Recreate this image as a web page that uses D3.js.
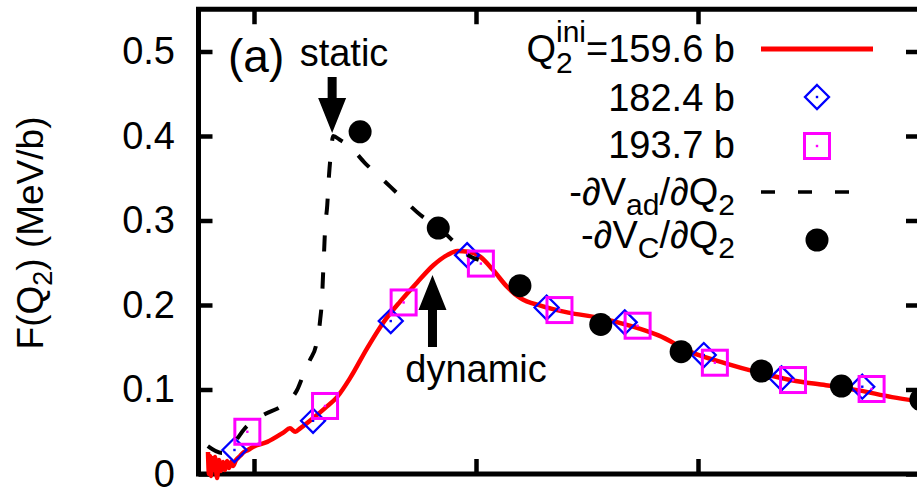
<!DOCTYPE html>
<html><head><meta charset="utf-8">
<script src="https://cdn.jsdelivr.net/npm/d3@7"></script>
<style>
body{margin:0;background:#fff}
svg{display:block}
text{font-family:"Liberation Sans",Arial,Helvetica,sans-serif;fill:#000}
</style>
</head><body>
<svg id="c" width="917" height="489"></svg>
<script>
// ---------- data ----------
const xTicks = [50, 100, 150, 200];
const yTicks = [0, 0.1, 0.2, 0.3, 0.4, 0.5];
const yTickLabels = ["0", "0.1", "0.2", "0.3", "0.4", "0.5"];

// Q2ini = 159.6 b (red line)
const redX = [39.64,39.86,40.09,40.32,40.54,40.99,41.22,41.67,42.12,42.57,43.02,43.47,43.92,44.37,44.82,45.27,45.95,46.85,47.75,48.65,49.77,
  53.0,56.6,58.1,59.3,60.4,63.3,66.0,68.7,71.7,75.5,79.1,82.9,86.8,90.4,93.5,95.8,98.3,101.0,103.9,107.1,110.0,114.7,120.8,127.6,135.0,141.1,148.6,156.2,163.7,171.1,178.8,186.2,193.7,200.1];
const redY = [0.026,0.000,0.0213,-0.0024,0.0189,0.0047,0.0201,-0.0047,0.0166,0.0036,0.0142,0.0047,0.0154,0.0071,0.0142,0.0095,0.0166,0.0213,0.0260,0.0284,0.0320,
  0.038,0.049,0.054,0.050,0.054,0.066,0.078,0.091,0.114,0.149,0.179,0.204,0.227,0.247,0.259,0.264,0.263,0.257,0.241,0.221,0.208,0.199,0.191,0.185,0.175,0.164,0.144,0.131,0.120,0.111,0.105,0.099,0.091,0.086];

// 182.4 b (blue diamonds)
const diamondX = [45.6, 63.3, 80.8, 98.0, 115.9, 133.5, 151.3, 168.8, 187.0];
const diamondY = [0.0284, 0.063, 0.181, 0.259, 0.197, 0.1795, 0.1408, 0.1132, 0.1033];

// 193.7 b (magenta squares)
const squareX = [48.5, 66.0, 83.7, 101.1, 118.8, 136.4, 153.8, 171.4, 189.1];
const squareY = [0.050, 0.0805, 0.203, 0.249, 0.194, 0.1755, 0.1317, 0.1112, 0.1006];

// -dVad/dQ2 (black dashed)
const adX = [39.6,42.8,45.1,48.0,52.5,55.9,58.1,59.7,61.1,62.6,64.0,64.9,65.3,65.6,65.8,66.0,66.5,66.9,67.4,67.8,69.4,71.7,75.0,78.4,82.9,87.5,92.0,95.3,98.1,100.6];
const adY = [0.0331,0.0249,0.0343,0.0544,0.0710,0.0793,0.0876,0.0994,0.1172,0.1349,0.1527,0.1822,0.2059,0.2414,0.2651,0.2888,0.3183,0.3538,0.3834,0.4000,0.3953,0.3870,0.3680,0.3515,0.3290,0.3065,0.2899,0.2734,0.2592,0.2533];

// -dVC/dQ2 (black circles)
const cX = [73.9, 91.5, 109.9, 128.1, 146.2, 164.3, 182.3, 200.2];
const cY = [0.405, 0.291, 0.2228, 0.177, 0.1447, 0.1219, 0.1041, 0.088];

// arrows (static / dynamic)
const arrowLabels = ["static", "dynamic"];
const arrowTipX = [67.6, 90.2];
const arrowTipY = [0.4036, 0.2355];
const arrowTailY = [0.4698, 0.1503];

// ---------- layout ----------
const svg = d3.select("#c");
const x = d3.scaleLinear().domain([37.5, 200]).range([198.5, 920]);
const y = d3.scaleLinear().domain([0, 0.55]).range([474, 9.25]);
const FS = 38, SFS = 30;

// frame
svg.append("rect").attr("x", x.range()[0]).attr("y", y.range()[1])
  .attr("width", x.range()[1] - x.range()[0]).attr("height", y.range()[0] - y.range()[1])
  .attr("fill", "none").attr("stroke", "#000").attr("stroke-width", 5);

function styleAxis(g) {
  g.select(".domain").remove();
  g.selectAll(".tick line").attr("stroke", "#000").attr("stroke-width", 4.5);
}
svg.append("g").attr("transform", `translate(${x.range()[0]},0)`)
  .call(d3.axisLeft(y).tickValues(yTicks).tickSize(-14).tickPadding(23.5).tickFormat((d, i) => yTickLabels[i]))
  .call(styleAxis)
  .call(g => g.selectAll(".tick text").attr("font-size", FS).attr("fill", "#000")
     .attr("font-family", '"Liberation Sans",Arial,sans-serif'));
svg.append("g").attr("transform", `translate(${x.range()[1]},0)`)
  .call(d3.axisRight(y).tickValues(yTicks).tickSize(-14).tickFormat(""))
  .call(styleAxis);
svg.append("g").attr("transform", `translate(0,${y.range()[0]})`)
  .call(d3.axisBottom(x).tickValues(xTicks).tickSize(-15).tickFormat(""))
  .call(styleAxis);
svg.append("g").attr("transform", `translate(0,${y.range()[1]})`)
  .call(d3.axisTop(x).tickValues(xTicks).tickSize(-15).tickFormat(""))
  .call(styleAxis);

// y title
const yt = svg.append("text").attr("transform", "translate(43,233) rotate(-90)")
  .attr("text-anchor", "middle").attr("font-size", 37);
yt.append("tspan").text("F(Q");
yt.append("tspan").attr("font-size", 27).attr("dy", 9).text("2");
yt.append("tspan").attr("dy", -9).text(") (MeV/b)");

// ---------- series ----------
const line = d3.line().x(d => x(d[0])).y(d => y(d[1])).curve(d3.curveMonotoneX);

const redData = redX.map((v, i) => [v, redY[i]]);
svg.append("path").attr("d", line(redData)).attr("fill", "none")
  .attr("stroke", "#ff0000").attr("stroke-width", 4.5).attr("stroke-linejoin", "round");

const diamondPath = "M0,-12L12,0L0,12L-12,0Z";
function drawDiamond(g, px, py) {
  g.append("path").attr("d", diamondPath).attr("transform", `translate(${px},${py})`)
    .attr("fill", "none").attr("stroke", "#0000ff").attr("stroke-width", 2.3);
  g.append("rect").attr("x", px - 1.2).attr("y", py - 1.2).attr("width", 2.4).attr("height", 2.4).attr("fill", "#0000ff");
}
function drawSquare(g, px, py) {
  g.append("rect").attr("x", px - 12.5).attr("y", py - 12.5).attr("width", 25).attr("height", 25)
    .attr("fill", "none").attr("stroke", "#ff00ff").attr("stroke-width", 3);
  g.append("rect").attr("x", px - 1.2).attr("y", py - 1.2).attr("width", 2.4).attr("height", 2.4).attr("fill", "#ff00ff");
}
const gD = svg.append("g");
diamondX.forEach((v, i) => drawDiamond(gD, x(v), y(diamondY[i])));
const gS = svg.append("g");
squareX.forEach((v, i) => drawSquare(gS, x(v), y(squareY[i])));

const adData = adX.map((v, i) => [v, adY[i]]);
svg.append("path").attr("d", line(adData)).attr("fill", "none")
  .attr("stroke", "#000").attr("stroke-width", 4).attr("stroke-dasharray", "16,21");

svg.append("g").selectAll("circle").data(cX.map((v, i) => [v, cY[i]])).join("circle")
  .attr("cx", d => x(d[0])).attr("cy", d => y(d[1])).attr("r", 11.5).attr("fill", "#000");

// ---------- arrows & labels ----------
arrowTipX.forEach((tx0, i) => {
  const tx = x(tx0), ty = y(arrowTipY[i]), tail = y(arrowTailY[i]);
  const dir = Math.sign(ty - tail), hl = 35, hw = 14, sw = 4.5;
  const hb = ty - dir * hl;
  const pts = [[tx - sw, tail], [tx - sw, hb], [tx - hw, hb], [tx, ty], [tx + hw, hb], [tx + sw, hb], [tx + sw, tail]];
  svg.append("polygon").attr("points", pts.map(p => p.join(",")).join(" ")).attr("fill", "#000");
});
svg.append("text").attr("x", 228).attr("y", 72).attr("font-size", 46).text("(a)");
svg.append("text").attr("x", 344).attr("y", 66).attr("text-anchor", "middle").attr("font-size", FS).text(arrowLabels[0]);
svg.append("text").attr("x", 476).attr("y", 382).attr("text-anchor", "middle").attr("font-size", FS).text(arrowLabels[1]);

// ---------- legend ----------
const rowY = [49, 97, 146, 192, 240];
const rowBase = [62, 111, 158, 205, 248];
const textEnd = 735, sx0 = 761, sx1 = 873, sxm = 817;
const lg = svg.append("g");

// row 1
const t1 = lg.append("text").attr("x", textEnd).attr("y", rowBase[0]).attr("text-anchor", "end").attr("font-size", FS);
t1.append("tspan").text("Q");
t1.append("tspan").attr("font-size", SFS).attr("dy", 11).text("2");
t1.append("tspan").attr("font-size", SFS).attr("dx", -0.556 * SFS).attr("dy", -31).text("ini");
t1.append("tspan").attr("dy", 20).text("=159.6 b");
lg.append("line").attr("x1", sx0).attr("x2", sx1).attr("y1", rowY[0]).attr("y2", rowY[0])
  .attr("stroke", "#ff0000").attr("stroke-width", 5);

// row 2
lg.append("text").attr("x", textEnd).attr("y", rowBase[1]).attr("text-anchor", "end").attr("font-size", FS).text("182.4 b");
drawDiamond(lg, sxm, rowY[1]);
// row 3
lg.append("text").attr("x", textEnd).attr("y", rowBase[2]).attr("text-anchor", "end").attr("font-size", FS).text("193.7 b");
drawSquare(lg, sxm, rowY[2]);
// row 4
const t4 = lg.append("text").attr("x", textEnd).attr("y", rowBase[3]).attr("text-anchor", "end").attr("font-size", FS);
t4.append("tspan").text("-\u2202V");
t4.append("tspan").attr("font-size", SFS).attr("dy", 10).text("ad");
t4.append("tspan").attr("dy", -10).text("/\u2202Q");
t4.append("tspan").attr("font-size", SFS).attr("dy", 10).text("2");
lg.append("line").attr("x1", sx0).attr("x2", 852).attr("y1", rowY[3]).attr("y2", rowY[3])
  .attr("stroke", "#000").attr("stroke-width", 3.5).attr("stroke-dasharray", "14,23");
// row 5
const t5 = lg.append("text").attr("x", textEnd).attr("y", rowBase[4]).attr("text-anchor", "end").attr("font-size", FS);
t5.append("tspan").text("-\u2202V");
t5.append("tspan").attr("font-size", SFS).attr("dy", 10).text("C");
t5.append("tspan").attr("dy", -10).text("/\u2202Q");
t5.append("tspan").attr("font-size", SFS).attr("dy", 10).text("2");
lg.append("circle").attr("cx", sxm).attr("cy", rowY[4]).attr("r", 11.5).attr("fill", "#000");
</script>
</body></html>
